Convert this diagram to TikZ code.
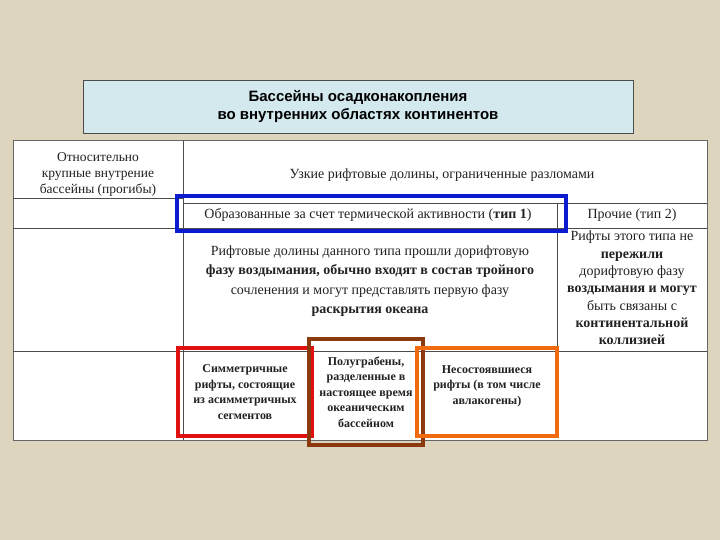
\documentclass[tikz,border=0pt]{standalone}
\usepackage{fontspec}
\setmainfont{Liberation Serif}
\newfontfamily\titlefont{Liberation Sans}
\definecolor{bg}{HTML}{DDD5BE}
\definecolor{titlebg}{HTML}{D3E9EE}
\definecolor{cblue}{HTML}{0A1BD0}
\definecolor{cred}{HTML}{E01010}
\definecolor{cbrown}{HTML}{8B3A10}
\definecolor{corange}{HTML}{F06A10}
\definecolor{txt}{HTML}{222222}
\begin{document}
\begin{tikzpicture}[x=1pt,y=-1pt,
  cell/.style={align=center,font=\fontsize{14}{16}\selectfont,text=txt,inner sep=0pt},
  small/.style={font=\bfseries\fontsize{12}{15.5}\selectfont},
  hl/.style={line width=4pt}]
\useasboundingbox (0,0) rectangle (720,540);
\fill[bg] (0,0) rectangle (720,540);
\node[draw=black!70,fill=titlebg,minimum width=550pt,minimum height=53pt,font=\titlefont\bfseries\fontsize{15}{18}\selectfont,align=center] (title) at (358,106.5) {Бассейны осадконакопления\\во внутренних областях континентов};
\fill[white,draw=black!60,line width=1pt] (13,141) rectangle (707,440);
\draw[black!70,line width=0.8pt] (183,141) -- (183,440)
  (13,198) -- (183,198) (183,203) -- (707,203)
  (13,228) -- (707,228) (13,351) -- (707,351)
  (557,203) -- (557,351);
\node[cell,font=\fontsize{13.5}{16}\selectfont] (c1) at (98,174) {Относительно\\крупные внутрение\\бассейны (прогибы)};
\node[cell] (c2) at (442,175) {Узкие рифтовые долины, ограниченные разломами};
\node[cell] (c3) at (368,215) {Образованные за счет термической активности (\textbf{тип 1})};
\node[cell] (c4) at (632,215) {Прочие (тип 2)};
\node[cell,font=\fontsize{14}{19.5}\selectfont] (c5) at (370,281) {Рифтовые долины данного типа прошли дорифтовую\\\textbf{фазу воздымания, обычно входят в состав тройного}\\сочленения и могут представлять первую фазу\\\textbf{раскрытия океана}};
\node[cell,font=\fontsize{14}{17.3}\selectfont] (c6) at (632,288) {Рифты этого типа не\\\textbf{пережили}\\дорифтовую фазу\\\textbf{воздымания и могут}\\быть связаны с\\\textbf{континентальной}\\\textbf{коллизией}};
\node[cell,small] (c7) at (245,392) {Симметричные\\рифты, состоящие\\из асимметричных\\сегментов};
\node[cell,small] (c8) at (366,392) {Полуграбены,\\разделенные в\\настоящее время\\океаническим\\бассейном};
\node[cell,small] (c9) at (487,386) {Несостоявшиеся\\рифты (в том числе\\авлакогены)};
\draw[hl,cblue] (177,196) rectangle (566,231);
\draw[hl,cred] (178,348) rectangle (312,436);
\draw[hl,cbrown] (309,339) rectangle (423,445);
\draw[hl,corange] (417,348) rectangle (557,436);
\end{tikzpicture}
\end{document}
